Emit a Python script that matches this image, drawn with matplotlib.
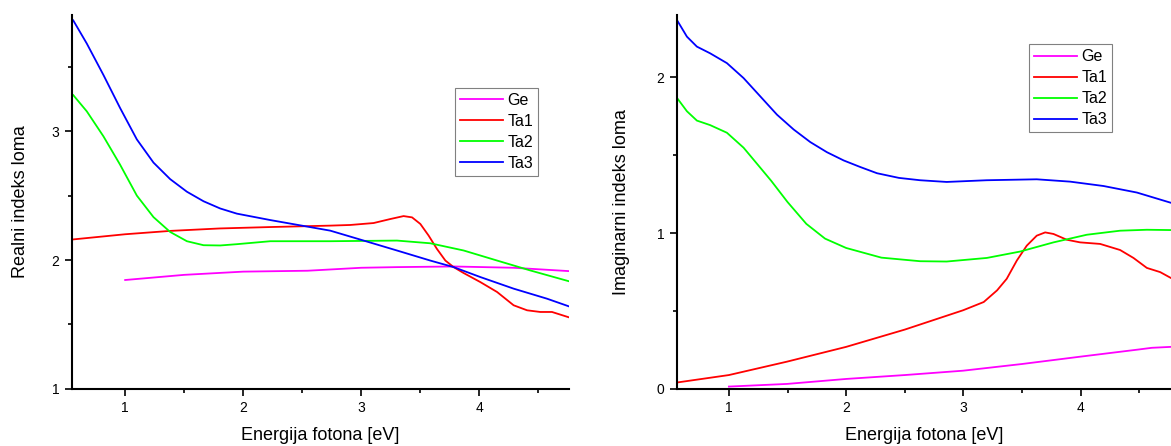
import matplotlib
matplotlib.use("Agg")
import matplotlib.pyplot as plt
from matplotlib.ticker import MultipleLocator

plt.rcParams['font.family'] = ['Liberation Sans', 'DejaVu Sans']

# --- real part (Realni indeks loma) ---
re_ge_x = [1.0, 1.5, 2.0, 2.545, 3.0, 3.302, 3.782, 4.29, 4.76]
re_ge_y = [1.845, 1.885, 1.91, 1.917, 1.94, 1.945, 1.95, 1.94, 1.914]

re_ta1_x = [0.56, 1.0, 1.381, 1.8, 2.23, 2.737, 2.906, 3.104, 3.245, 3.358, 3.43, 3.50,
            3.57, 3.64, 3.712, 3.782, 3.867, 4.008, 4.15, 4.29, 4.404, 4.516, 4.615, 4.76]
re_ta1_y = [2.16, 2.20, 2.226, 2.245, 2.256, 2.267, 2.272, 2.287, 2.318, 2.341, 2.331, 2.28,
            2.19, 2.087, 1.996, 1.945, 1.899, 1.829, 1.752, 1.649, 1.61, 1.597, 1.597, 1.555]

re_ta2_x = [0.56, 0.675, 0.816, 0.957, 1.099, 1.24, 1.381, 1.523, 1.664, 1.805, 1.946, 2.23,
            2.737, 3.302, 3.584, 3.867, 4.15, 4.432, 4.76]
re_ta2_y = [3.28, 3.154, 2.96, 2.74, 2.50, 2.333, 2.218, 2.146, 2.115, 2.113, 2.123, 2.146,
            2.146, 2.151, 2.13, 2.074, 1.996, 1.919, 1.835]

re_ta3_x = [0.56, 0.675, 0.816, 0.957, 1.099, 1.24, 1.381, 1.523, 1.664, 1.805, 1.946, 2.23,
            2.737, 3.02, 3.302, 3.584, 3.782, 4.008, 4.29, 4.573, 4.76]
re_ta3_y = [3.86, 3.68, 3.436, 3.18, 2.936, 2.756, 2.628, 2.53, 2.456, 2.40, 2.36, 2.31,
            2.228, 2.151, 2.074, 1.996, 1.945, 1.868, 1.778, 1.70, 1.64]

# --- imaginary part (Imaginarni indeks loma) ---
im_ge_x = [1.0, 1.495, 2.0, 2.5, 2.997, 3.5, 3.996, 4.493, 4.607, 4.77]
im_ge_y = [0.015, 0.032, 0.064, 0.089, 0.117, 0.16, 0.207, 0.253, 0.264, 0.27]

im_ta1_x = [0.556, 1.0, 1.495, 2.0, 2.5, 2.997, 3.173, 3.287, 3.369, 3.455, 3.54, 3.625,
            3.697, 3.768, 3.881, 3.995, 4.166, 4.336, 4.45, 4.564, 4.678, 4.77]
im_ta1_y = [0.041, 0.089, 0.175, 0.27, 0.381, 0.505, 0.558, 0.633, 0.707, 0.824, 0.92, 0.984,
            1.005, 0.995, 0.958, 0.941, 0.931, 0.892, 0.841, 0.777, 0.75, 0.712]

im_ta2_x = [0.556, 0.642, 0.727, 0.84, 0.983, 1.125, 1.267, 1.361, 1.5, 1.66, 1.82, 2.0,
            2.3, 2.63, 2.857, 3.199, 3.483, 3.768, 4.052, 4.336, 4.564, 4.77]
im_ta2_y = [1.87, 1.783, 1.723, 1.694, 1.645, 1.549, 1.421, 1.336, 1.20, 1.06, 0.965, 0.905,
            0.843, 0.82, 0.818, 0.841, 0.882, 0.941, 0.99, 1.016, 1.022, 1.02]

im_ta3_x = [0.556, 0.642, 0.727, 0.84, 0.983, 1.125, 1.267, 1.41, 1.552, 1.694, 1.836, 1.979,
            2.12, 2.263, 2.45, 2.63, 2.857, 3.199, 3.625, 3.91, 4.194, 4.479, 4.77]
im_ta3_y = [2.37, 2.262, 2.198, 2.155, 2.092, 1.996, 1.879, 1.761, 1.666, 1.585, 1.52, 1.467,
            1.425, 1.385, 1.355, 1.34, 1.329, 1.34, 1.346, 1.331, 1.303, 1.261, 1.195]

names = ['Ge', 'Ta1', 'Ta2', 'Ta3']
colors = ['#ff00ff', '#ff0000', '#00ff00', '#0000ff']

fig = plt.figure(figsize=(11.71, 4.46), dpi=100)
ax1 = fig.add_axes([0.0615, 0.128, 0.4245, 0.838])
ax2 = fig.add_axes([0.578, 0.128, 0.422, 0.838])


def style(ax, xlim, ylim, ylabel, ylabelpad):
    ax.set_xlim(*xlim)
    ax.set_ylim(*ylim)
    for s in ['top', 'right']:
        ax.spines[s].set_visible(False)
    for s in ['left', 'bottom']:
        ax.spines[s].set_linewidth(1.5)
    ax.xaxis.set_major_locator(MultipleLocator(1))
    ax.xaxis.set_minor_locator(MultipleLocator(0.5))
    ax.yaxis.set_major_locator(MultipleLocator(1))
    ax.yaxis.set_minor_locator(MultipleLocator(0.5))
    ax.tick_params(which='major', direction='out', length=5, width=1.2, labelsize=10, pad=4)
    ax.tick_params(which='minor', direction='out', length=3, width=1.2)
    ax.set_xlabel('Energija fotona [eV]', fontsize=13, labelpad=8)
    ax.set_ylabel(ylabel, fontsize=13, labelpad=ylabelpad)


real_series = [(re_ge_x, re_ge_y), (re_ta1_x, re_ta1_y), (re_ta2_x, re_ta2_y), (re_ta3_x, re_ta3_y)]
imag_series = [(im_ge_x, im_ge_y), (im_ta1_x, im_ta1_y), (im_ta2_x, im_ta2_y), (im_ta3_x, im_ta3_y)]

for (x, y), n, c in zip(real_series, names, colors):
    ax1.plot(x, y, color=c, lw=1.3, label=n, solid_joinstyle='round')
for (x, y), n, c in zip(imag_series, names, colors):
    ax2.plot(x, y, color=c, lw=1.3, label=n, solid_joinstyle='round')

style(ax1, (0.55, 4.76), (1, 3.9), 'Realni indeks loma', 16)
style(ax2, (0.556, 4.77), (0, 2.4), 'Imaginarni indeks loma', 19)

for ax, anchor in [(ax1, (0.77, 0.805)), (ax2, (0.7126, 0.922))]:
    leg = ax.legend(loc='upper left', bbox_to_anchor=anchor, borderaxespad=0,
                    fancybox=False, edgecolor='#808080', framealpha=1,
                    fontsize=11.5, handlelength=2.7, handletextpad=0.3,
                    labelspacing=0.38, borderpad=0.3)
    leg.get_frame().set_linewidth(0.8)

fig.savefig('out.png', dpi=100)
